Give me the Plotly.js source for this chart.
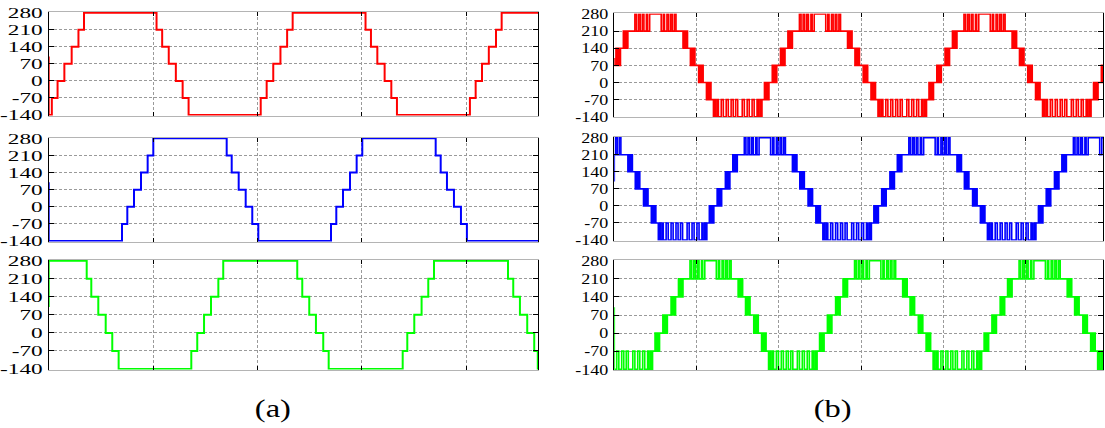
<!DOCTYPE html>
<html>
<head>
<meta charset="utf-8">
<script src="https://cdn.plot.ly/plotly-3.0.1.min.js"></script>
<style>html,body{margin:0;padding:0;background:#fff;}#chart{width:1105px;height:428px;}</style>
</head>
<body>
<div id="chart"></div>
<script>
// ---------- data ----------
const yTickVals = [-140, -70, 0, 70, 140, 210, 280];
const yTickText = ['-140', '-70', '0', '70', '140', '210', '280'];
const panelLabels = ['(a)', '(b)'];

// (a) stepped waveforms: step times (grid divisions) and levels
const redA_x = [0, 0, 0.030, 0.085, 0.150, 0.220, 0.285, 0.338, 1.033, 1.087, 1.150, 1.218, 1.283, 1.340, 2.031, 2.088, 2.151, 2.220, 2.284, 2.337, 3.035, 3.087, 3.148, 3.218, 3.282, 3.336, 4.035, 4.090, 4.151, 4.216, 4.285, 4.339, 4.69];
const redA_y = [100, -140, -70, 0, 70, 140, 210, 280, 210, 140, 70, 0, -70, -140, -70, 0, 70, 140, 210, 280, 210, 140, 70, 0, -70, -140, -70, 0, 70, 140, 210, 280, 280];
const blueA_x = [0, 0, 0.702, 0.753, 0.817, 0.884, 0.948, 1.002, 1.705, 1.753, 1.820, 1.887, 1.950, 2.008, 2.704, 2.755, 2.819, 2.886, 2.950, 3.004, 3.707, 3.755, 3.815, 3.882, 3.949, 4.006, 4.69];
const blueA_y = [100, -140, -70, 0, 70, 140, 210, 280, 210, 140, 70, 0, -70, -140, -70, 0, 70, 140, 210, 280, 210, 140, 70, 0, -70, -140, -140];
const greenA_x = [0, 0, 0.364, 0.408, 0.475, 0.546, 0.609, 0.670, 1.366, 1.423, 1.488, 1.555, 1.625, 1.672, 2.381, 2.429, 2.496, 2.560, 2.630, 2.682, 3.391, 3.435, 3.502, 3.572, 3.636, 3.691, 4.400, 4.450, 4.514, 4.584, 4.651, 4.685, 4.69];
const greenA_y = [100, 280, 210, 140, 70, 0, -70, -140, -70, 0, 70, 140, 210, 280, 210, 140, 70, 0, -70, -140, -70, 0, 70, 140, 210, 280, 210, 140, 70, 0, -70, -140, -140];

// (b) switching pattern of one period, read around a peak (offset from peak, level from that time on)
const pwmOffsets = [
  -1.000, -0.945, -0.920, -0.885, -0.860, -0.825, -0.800, -0.765, -0.750, -0.730, -0.715, -0.705,
  -0.675, -0.660, -0.645, -0.630, -0.620,
  -0.580, -0.565, -0.550, -0.535, -0.525,
  -0.480, -0.465, -0.450, -0.435, -0.425,
  -0.390, -0.375, -0.360, -0.345, -0.335,
  -0.250, -0.230, -0.205, -0.185, -0.160, -0.140, -0.110, -0.095, -0.070,
   0.070, 0.095, 0.110, 0.140, 0.160, 0.185, 0.205, 0.230, 0.250,
   0.335, 0.345, 0.360, 0.375, 0.390,
   0.425, 0.435, 0.450, 0.465, 0.480,
   0.525, 0.535, 0.550, 0.565, 0.580,
   0.620, 0.630, 0.645, 0.660, 0.675,
   0.705, 0.715, 0.730, 0.750, 0.765, 0.800, 0.825, 0.860, 0.885, 0.920, 0.945, 0.975];
const pwmLevels = [
  -140, -70, -140, -70, -140, -70, -140, -70, -140, -70, -140, -70,
  0, -70, 0, -70, 0,
  70, 0, 70, 0, 70,
  140, 70, 140, 70, 140,
  210, 140, 210, 140, 210,
  280, 210, 280, 210, 280, 210, 280, 210, 280,
  210, 280, 210, 280, 210, 280, 210, 280, 210,
  140, 210, 140, 210, 140,
  70, 140, 70, 140, 70,
  0, 70, 0, 70, 0,
  -70, 0, -70, 0, -70,
  -140, -70, -140, -70, -140, -70, -140, -70, -140, -70, -140, -70];
// peak positions (grid divisions) of each phase in (b)
const redB_peaks = [-1.5, 0.5, 2.5, 4.5, 6.5];
const blueB_peaks = [-2.17, -0.17, 1.83, 3.83, 5.83];
const greenB_peaks = [-0.83, 1.17, 3.17, 5.17, 7.17];
const startValue = 100;

const xMaxA = 4.69, xMaxB = 5.94;

// ---------- build ----------
function buildPwm(peaks, xmax, init) {
  const pts = [];
  peaks.forEach(p => pwmOffsets.forEach((t, i) => pts.push([p + t, pwmLevels[i]])));
  pts.sort((a, b) => a[0] - b[0]);
  let L0 = pts[0][1];
  for (const [x, l] of pts) if (x <= 0) L0 = l;
  const xs = [0, 0], ys = [init, L0];
  for (const [x, l] of pts) if (x > 0 && x < xmax) { xs.push(x); ys.push(l); }
  xs.push(xmax); ys.push(ys[ys.length - 1]);
  return { xs, ys };
}
const redB = buildPwm(redB_peaks, xMaxB, startValue);
const blueB = buildPwm(blueB_peaks, xMaxB, startValue);
const greenB = buildPwm(greenB_peaks, xMaxB, startValue);

const RED = '#ff0000', BLUE = '#0000ff', GREEN = '#00ff00';
function tr(x, y, color, ax, w) {
  return { x, y, type: 'scatter', mode: 'lines', line: { color, width: w, shape: 'hv' },
    xaxis: 'x' + ax, yaxis: 'y' + ax, hoverinfo: 'skip' };
}
const data = [
  tr(redA_x, redA_y, RED, '', 2), tr(blueA_x, blueA_y, BLUE, '2', 2), tr(greenA_x, greenA_y, GREEN, '3', 2),
  tr(redB.xs, redB.ys, RED, '4', 1.6), tr(blueB.xs, blueB.ys, BLUE, '5', 1.6), tr(greenB.xs, greenB.ys, GREEN, '6', 1.6)
];

const W = 1105, H = 428;
const FONT = 'Liberation Serif';
const px = (a, b) => [a / W, b / W];
const py = (top, bot) => [1 - bot / H, 1 - top / H];

function xa(dom, xmax, ticks, anchor) {
  return { domain: dom, range: [0, xmax], anchor, showgrid: true, gridcolor: '#9a9a9a', griddash: '3px,2px',
    gridwidth: 1, showline: true, linecolor: '#b4b4b4', linewidth: 1, mirror: 'ticks', ticks: 'inside',
    ticklen: 4, tickcolor: '#000', tickvals: ticks, showticklabels: false, zeroline: false, fixedrange: true };
}
function ya(dom, anchor) {
  return { domain: dom, range: [-142.5, 282.5], anchor, tickvals: yTickVals, ticktext: yTickText,
    showgrid: true, gridcolor: '#9a9a9a', griddash: '3px,2px', gridwidth: 1, showline: true, linecolor: '#000',
    linewidth: 1, mirror: 'ticks', ticks: 'inside', ticklen: 5, tickcolor: '#000', zeroline: false,
    ticklabelstandoff: 2, tickfont: { family: FONT, size: 15, color: '#000' },
    fixedrange: true };
}
const ticksA = [1, 2, 3, 4], ticksB = [1, 2, 3, 4, 5];
const dA = px(48.7, 538.3), dB = px(614.3, 1103);
const layout = {
  width: W, height: H, margin: { l: 0, r: 0, t: 0, b: 0 }, showlegend: false,
  paper_bgcolor: '#ffffff', plot_bgcolor: '#ffffff', font: { family: FONT },
  xaxis: xa(dA, xMaxA, ticksA, 'y'), yaxis: ya(py(12.1, 115.6), 'x'),
  xaxis2: xa(dA, xMaxA, ticksA, 'y2'), yaxis2: ya(py(137.7, 241.6), 'x2'),
  xaxis3: xa(dA, xMaxA, ticksA, 'y3'), yaxis3: ya(py(260.1, 369.6), 'x3'),
  xaxis4: xa(dB, xMaxB, ticksB, 'y4'), yaxis4: ya(py(13.4, 117.3), 'x4'),
  xaxis5: xa(dB, xMaxB, ticksB, 'y5'), yaxis5: ya(py(137.1, 240.6), 'x5'),
  xaxis6: xa(dB, xMaxB, ticksB, 'y6'), yaxis6: ya(py(260.1, 369.9), 'x6'),
  annotations: [
    { text: panelLabels[0], x: 273 / W, y: 1 - 409 / H, xref: 'paper', yref: 'paper', showarrow: false,
      xanchor: 'center', yanchor: 'middle', font: { family: FONT, size: 25, color: '#000' } },
    { text: panelLabels[1], x: 832 / W, y: 1 - 409 / H, xref: 'paper', yref: 'paper', showarrow: false,
      xanchor: 'center', yanchor: 'middle', font: { family: FONT, size: 25, color: '#000' } }
  ]
};

Plotly.newPlot('chart', data, layout, { staticPlot: true, displayModeBar: false }).then(() => {
  // the source figure is horizontally stretched; widen the glyphs accordingly
  const stretch = (sel, k) => document.querySelectorAll(sel).forEach(el => {
    const w = el.getComputedTextLength();
    el.setAttribute('textLength', (w * k).toFixed(2));
    el.setAttribute('lengthAdjust', 'spacingAndGlyphs');
  });
  stretch('.ytick text, .y2tick text, .y3tick text', 1.55);
  stretch('.y4tick text, .y5tick text, .y6tick text', 1.2);
  stretch('.annotation-text', 1.3);
});
</script>
</body>
</html>
